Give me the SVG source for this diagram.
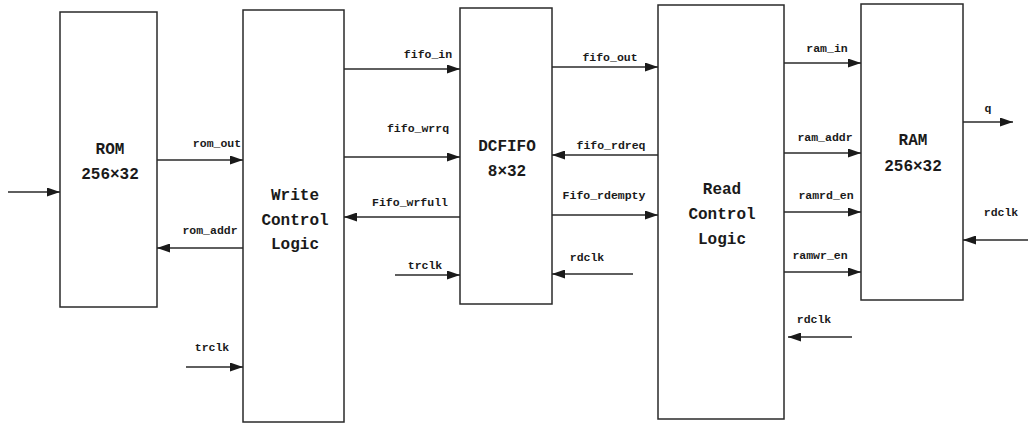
<svg xmlns="http://www.w3.org/2000/svg" width="1030" height="425" viewBox="0 0 1030 425">
<defs>
<marker id="ah" viewBox="0 0 13 9" refX="13" refY="4.5" markerWidth="13" markerHeight="9" markerUnits="userSpaceOnUse" orient="auto">
<path d="M0,0 L13,4.5 L0,9 Z" fill="#1a1a1a"/>
</marker>
<style>
.box{fill:#fff;stroke:#2a2a2a;stroke-width:1.5}
.wire{stroke:#2a2a2a;stroke-width:1.5;fill:none;marker-end:url(#ah)}
.lbl{font-family:"Liberation Mono","DejaVu Sans Mono",monospace;font-size:11.5px;font-weight:bold;fill:#1a1a1a;text-anchor:middle}
.big{font-family:"Liberation Mono","DejaVu Sans Mono",monospace;font-size:16px;font-weight:bold;fill:#1a1a1a;text-anchor:middle}
</style>
</defs>
<rect width="1030" height="425" fill="#fff"/>
<g id="rom">
<rect class="box" x="60" y="12" width="97" height="295"/>
<text class="big" x="110" y="154">ROM</text>
<text class="big" x="110" y="179">256×32</text>
</g>
<g id="write-control">
<rect class="box" x="243" y="10" width="101" height="412"/>
<text class="big" x="295" y="200">Write</text>
<text class="big" x="295" y="225">Control</text>
<text class="big" x="295" y="249">Logic</text>
</g>
<g id="dcfifo">
<rect class="box" x="460" y="8" width="92" height="296"/>
<text class="big" x="507" y="151">DCFIFO</text>
<text class="big" x="507" y="176">8×32</text>
</g>
<g id="read-control">
<rect class="box" x="658" y="5" width="126" height="414"/>
<text class="big" x="722" y="194">Read</text>
<text class="big" x="722" y="219">Control</text>
<text class="big" x="722" y="244">Logic</text>
</g>
<g id="ram">
<rect class="box" x="861" y="4" width="102" height="296"/>
<text class="big" x="913" y="145">RAM</text>
<text class="big" x="913" y="171">256×32</text>
</g>
<g id="connectors">
<line class="wire" x1="8" y1="192" x2="60" y2="192"/>
<line class="wire" x1="157" y1="160" x2="243" y2="160"/>
<line class="wire" x1="243" y1="248" x2="157" y2="248"/>
<line class="wire" x1="186" y1="367" x2="243" y2="367"/>
<line class="wire" x1="344" y1="69" x2="460" y2="69"/>
<line class="wire" x1="344" y1="157" x2="460" y2="157"/>
<line class="wire" x1="460" y1="217" x2="344" y2="217"/>
<line class="wire" x1="395" y1="275" x2="460" y2="275"/>
<line class="wire" x1="552" y1="67" x2="658" y2="67"/>
<line class="wire" x1="658" y1="155" x2="552" y2="155"/>
<line class="wire" x1="552" y1="215" x2="658" y2="215"/>
<line class="wire" x1="633" y1="274" x2="552" y2="274"/>
<line class="wire" x1="784" y1="63" x2="861" y2="63"/>
<line class="wire" x1="784" y1="153" x2="861" y2="153"/>
<line class="wire" x1="784" y1="212" x2="861" y2="212"/>
<line class="wire" x1="784" y1="272" x2="861" y2="272"/>
<line class="wire" x1="852" y1="337" x2="788" y2="337"/>
<line class="wire" x1="963" y1="122" x2="1013" y2="122"/>
<line class="wire" x1="1028" y1="240" x2="963" y2="240"/>
<text class="lbl" x="217" y="147">rom_out</text>
<text class="lbl" x="210" y="234">rom_addr</text>
<text class="lbl" x="212" y="351">trclk</text>
<text class="lbl" x="428" y="58">fifo_in</text>
<text class="lbl" x="418" y="132">fifo_wrrq</text>
<text class="lbl" x="410" y="206">Fifo_wrfull</text>
<text class="lbl" x="425" y="269">trclk</text>
<text class="lbl" x="610" y="61">fifo_out</text>
<text class="lbl" x="611" y="149">fifo_rdreq</text>
<text class="lbl" x="604" y="199">Fifo_rdempty</text>
<text class="lbl" x="587" y="261">rdclk</text>
<text class="lbl" x="827" y="52">ram_in</text>
<text class="lbl" x="825" y="141">ram_addr</text>
<text class="lbl" x="826" y="199">ramrd_en</text>
<text class="lbl" x="820" y="259">ramwr_en</text>
<text class="lbl" x="814" y="323">rdclk</text>
<text class="lbl" x="988" y="112">q</text>
<text class="lbl" x="1001" y="216">rdclk</text>
</g>
</svg>
